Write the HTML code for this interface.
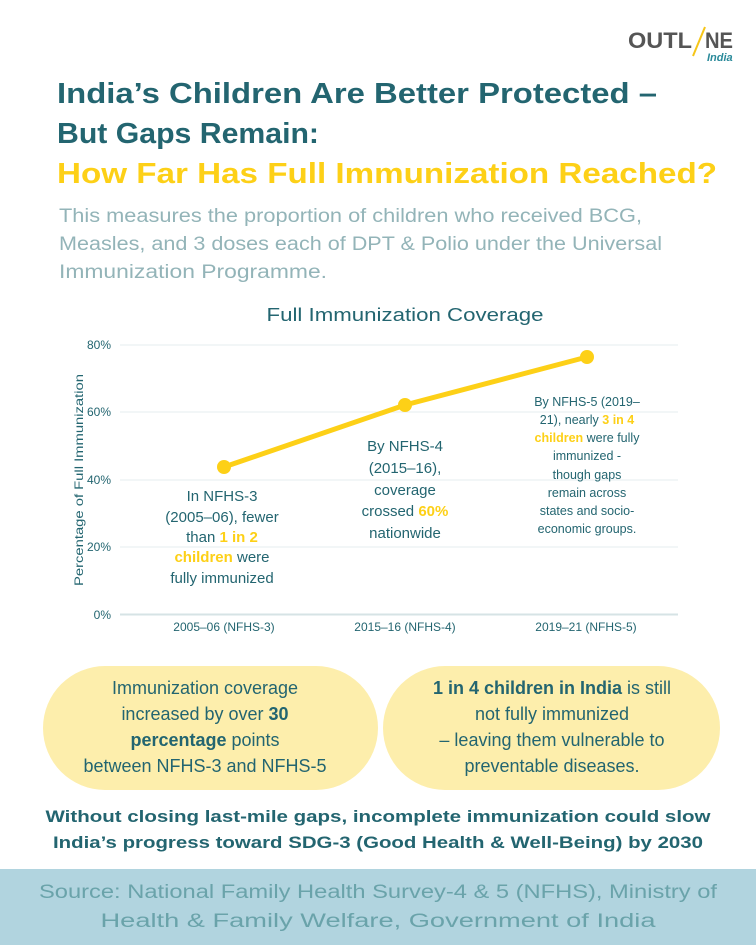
<!DOCTYPE html>
<html><head><meta charset="utf-8"><style>
html,body{margin:0;padding:0;background:#fff}
svg{display:block}
text{font-family:"Liberation Sans",sans-serif}
</style></head><body>
<svg width="756" height="945" viewBox="0 0 756 945" xmlns="http://www.w3.org/2000/svg">
<text x="628" y="48" font-size="22" font-weight="bold" fill="#555" textLength="64" lengthAdjust="spacingAndGlyphs">OUTL</text>
<line x1="693" y1="56" x2="705" y2="27" stroke="#f5c518" stroke-width="2"/>
<text x="705" y="48" font-size="22" font-weight="bold" fill="#555" textLength="28" lengthAdjust="spacingAndGlyphs">NE</text>
<text x="707" y="61" font-size="11" font-style="italic" font-weight="bold" fill="#2a8a9a" font-family="Liberation Serif,serif">India</text>

<text x="57" y="103" font-size="29" font-weight="bold" fill="#236570" textLength="600" lengthAdjust="spacingAndGlyphs">India’s Children Are Better Protected –</text>
<text x="57" y="143" font-size="29" font-weight="bold" fill="#236570" textLength="262" lengthAdjust="spacingAndGlyphs">But Gaps Remain:</text>
<text x="57" y="183" font-size="29" font-weight="bold" fill="#fdd017" textLength="660" lengthAdjust="spacingAndGlyphs">How Far Has Full Immunization Reached?</text>
<g font-size="19" fill="#93b4b8">
<text x="59" y="222" textLength="583" lengthAdjust="spacingAndGlyphs">This measures the proportion of children who received BCG,</text>
<text x="59" y="250" textLength="603" lengthAdjust="spacingAndGlyphs">Measles, and 3 doses each of DPT &amp; Polio under the Universal</text>
<text x="59" y="278" textLength="268" lengthAdjust="spacingAndGlyphs">Immunization Programme.</text>
</g>

<text x="405" y="321" font-size="18" fill="#236570" text-anchor="middle" textLength="277" lengthAdjust="spacingAndGlyphs">Full Immunization Coverage</text>

<g stroke="#e6eeef" stroke-width="1">
<line x1="120" y1="345" x2="678" y2="345"/>
<line x1="120" y1="412" x2="678" y2="412"/>
<line x1="120" y1="480" x2="678" y2="480"/>
<line x1="120" y1="547" x2="678" y2="547"/>
</g>
<line x1="120" y1="614.5" x2="678" y2="614.5" stroke="#d6e3e5" stroke-width="2"/>
<g font-size="12" fill="#236570" text-anchor="end">
<text x="111" y="349">80%</text>
<text x="111" y="416">60%</text>
<text x="111" y="484">40%</text>
<text x="111" y="551">20%</text>
<text x="111" y="619">0%</text>
</g>
<text transform="translate(83,480) rotate(-90)" font-size="12" fill="#236570" text-anchor="middle" textLength="212" lengthAdjust="spacingAndGlyphs">Percentage of Full Immunization</text>
<g font-size="12" fill="#236570" text-anchor="middle">
<text x="224" y="631">2005–06 (NFHS-3)</text>
<text x="405" y="631">2015–16 (NFHS-4)</text>
<text x="586" y="631">2019–21 (NFHS-5)</text>
</g>
<polyline points="224,467 405,405 587,357" fill="none" stroke="#fdd017" stroke-width="5" stroke-linecap="round"/>
<circle cx="224" cy="467" r="7" fill="#fdd017"/>
<circle cx="405" cy="405" r="7" fill="#fdd017"/>
<circle cx="587" cy="357" r="7" fill="#fdd017"/>

<g font-size="15" fill="#236570" text-anchor="middle">
<text x="222" y="501">In NFHS-3</text>
<text x="222" y="522">(2005–06), fewer</text>
<text x="222" y="542">than <tspan fill="#fdd017" font-weight="bold">1 in 2</tspan></text>
<text x="222" y="562"><tspan fill="#fdd017" font-weight="bold">children</tspan> were</text>
<text x="222" y="583">fully immunized</text>
<text x="405" y="451">By NFHS-4</text>
<text x="405" y="473">(2015–16),</text>
<text x="405" y="495">coverage</text>
<text x="405" y="516">crossed <tspan fill="#fdd017" font-weight="bold">60%</tspan></text>
<text x="405" y="538">nationwide</text>
</g>
<g font-size="12.5" fill="#236570" text-anchor="middle">
<text x="587" y="406">By NFHS-5 (2019–</text>
<text x="587" y="424">21), nearly <tspan fill="#fdd017" font-weight="bold">3 in 4</tspan></text>
<text x="587" y="442"><tspan fill="#fdd017" font-weight="bold">children</tspan> were fully</text>
<text x="587" y="460">immunized -</text>
<text x="587" y="479">though gaps</text>
<text x="587" y="497">remain across</text>
<text x="587" y="515">states and socio-</text>
<text x="587" y="533">economic groups.</text>
</g>

<rect x="43" y="666" width="335" height="124" rx="62" fill="#fdeeac"/>
<rect x="383" y="666" width="337" height="124" rx="62" fill="#fdeeac"/>
<g font-size="18" fill="#236570" text-anchor="middle">
<text x="205" y="694">Immunization coverage</text>
<text x="205" y="720">increased by over <tspan font-weight="bold">30</tspan></text>
<text x="205" y="746"><tspan font-weight="bold">percentage</tspan> points</text>
<text x="205" y="772">between NFHS-3 and NFHS-5</text>
<text x="552" y="694"><tspan font-weight="bold">1 in 4 children in India</tspan> is still</text>
<text x="552" y="720">not fully immunized</text>
<text x="552" y="746">– leaving them vulnerable to</text>
<text x="552" y="772">preventable diseases.</text>
</g>
<g font-size="17" font-weight="bold" fill="#236570" text-anchor="middle">
<text x="378" y="822" textLength="665" lengthAdjust="spacingAndGlyphs">Without closing last-mile gaps, incomplete immunization could slow</text>
<text x="378" y="848" textLength="650" lengthAdjust="spacingAndGlyphs">India’s progress toward SDG-3 (Good Health &amp; Well-Being) by 2030</text>
</g>
<rect x="0" y="869" width="756" height="76" fill="#b1d4df"/>
<g font-size="19" fill="#6aa3aa" text-anchor="middle">
<text x="378" y="898" textLength="678" lengthAdjust="spacingAndGlyphs">Source: National Family Health Survey-4 &amp; 5 (NFHS), Ministry of</text>
<text x="378" y="927" textLength="555" lengthAdjust="spacingAndGlyphs">Health &amp; Family Welfare, Government of India</text>
</g>
</svg>
</body></html>
